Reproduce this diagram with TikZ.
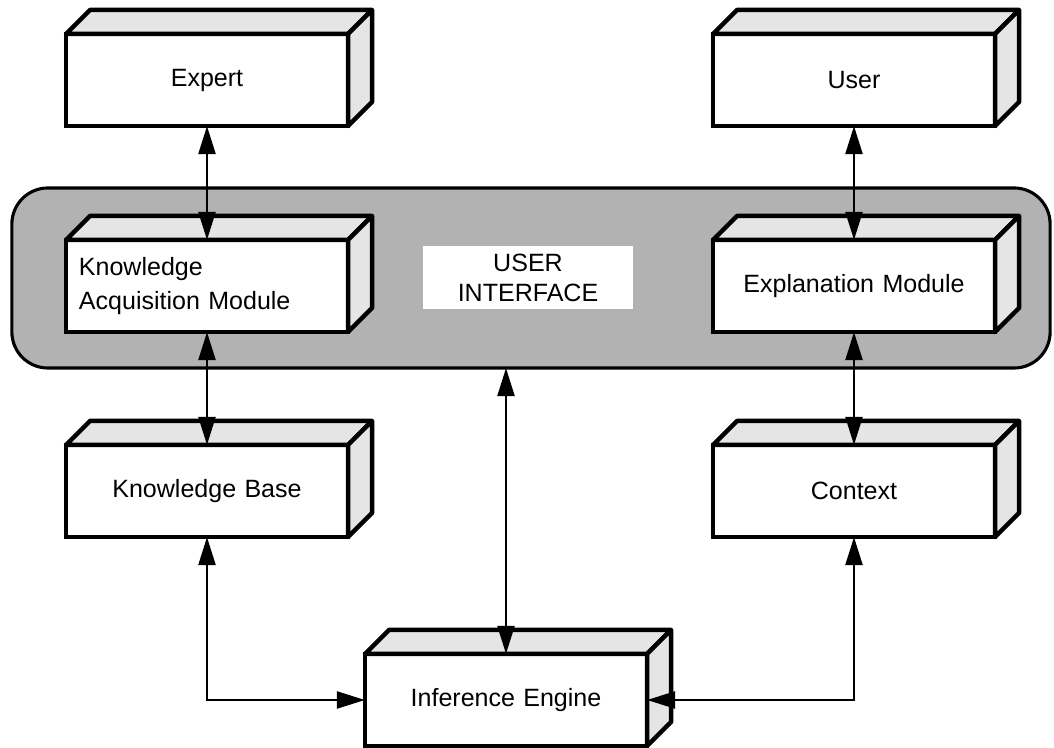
\documentclass[tikz,border=0pt]{standalone}
\usepackage{fontspec}
\setmainfont{Liberation Sans}
\usetikzlibrary{arrows.meta}
\newcommand{\boxdep}{0.6cm}
\newcommand{\slab}[1]{%
	\filldraw[face] (#1.north west) -- ++(\boxdep,\boxdep) -- ([shift={(\boxdep,\boxdep)}]#1.north east) -- (#1.north east) -- cycle;
	\filldraw[face] (#1.north east) -- ([shift={(\boxdep,\boxdep)}]#1.north east) -- ([shift={(\boxdep,\boxdep)}]#1.south east) -- (#1.south east) -- cycle;}
\tikzset{
	block/.style={draw, fill=white, line width=3.2pt, outer sep=0pt, inner xsep=0.325cm, text width=6.4cm,
		minimum height=2.3cm, align=center, font=\fontsize{17.8}{24}\selectfont},
	face/.style={fill=black!10, draw, line width=3.2pt, line join=round},
	panel/.style={draw, fill=black!30, line width=2.2pt, rounded corners=0.9cm, outer sep=0pt,
		minimum width=25.95cm, minimum height=4.5cm},
	link/.style={line width=2pt, {Triangle[length=0.7cm,width=0.42cm]}-{Triangle[length=0.7cm,width=0.42cm]}}
}
\begin{document}
\begin{tikzpicture}[x=0.025cm, y=0.025cm]
		\useasboundingbox (0,0) rectangle (1054,748);
		\node (Ui) at (531,470) [panel] {};
		\node (Lb) at (528,470) [fill=white, minimum width=5.25cm, minimum height=1.575cm, align=center,
			font=\fontsize{17.8}{21}\selectfont] {USER\\INTERFACE};
		\node (Ex) at (207,668) [block] {Expert};                      \slab{Ex}
		\node (Us) at (854,668) [block] {User};                        \slab{Us}
		\node (Ka) at (207,462) [block, align=left] {Knowledge\\Acquisition Module}; \slab{Ka}
		\node (Em) at (854,462) [block] {Explanation Module};          \slab{Em}
		\node (Kb) at (207,257) [block] {Knowledge Base};              \slab{Kb}
		\node (Cx) at (854,257) [block] {Context};                     \slab{Cx}
		\node (Ie) at (506,48)  [block] {Inference Engine};            \slab{Ie}
		\draw[link] (Ex) -- (Ka);
		\draw[link] (Ka) -- (Kb);
		\draw[link] (Us) -- (Em);
		\draw[link] (Em) -- (Cx);
		\draw[link] (Kb.south) |- (Ie.west);
		\draw[link] (Cx.south) |- (Ie.east);
		\draw[link] (Ui.south -| Ie.north) -- (Ie.north);
	\end{tikzpicture}
\end{document}
